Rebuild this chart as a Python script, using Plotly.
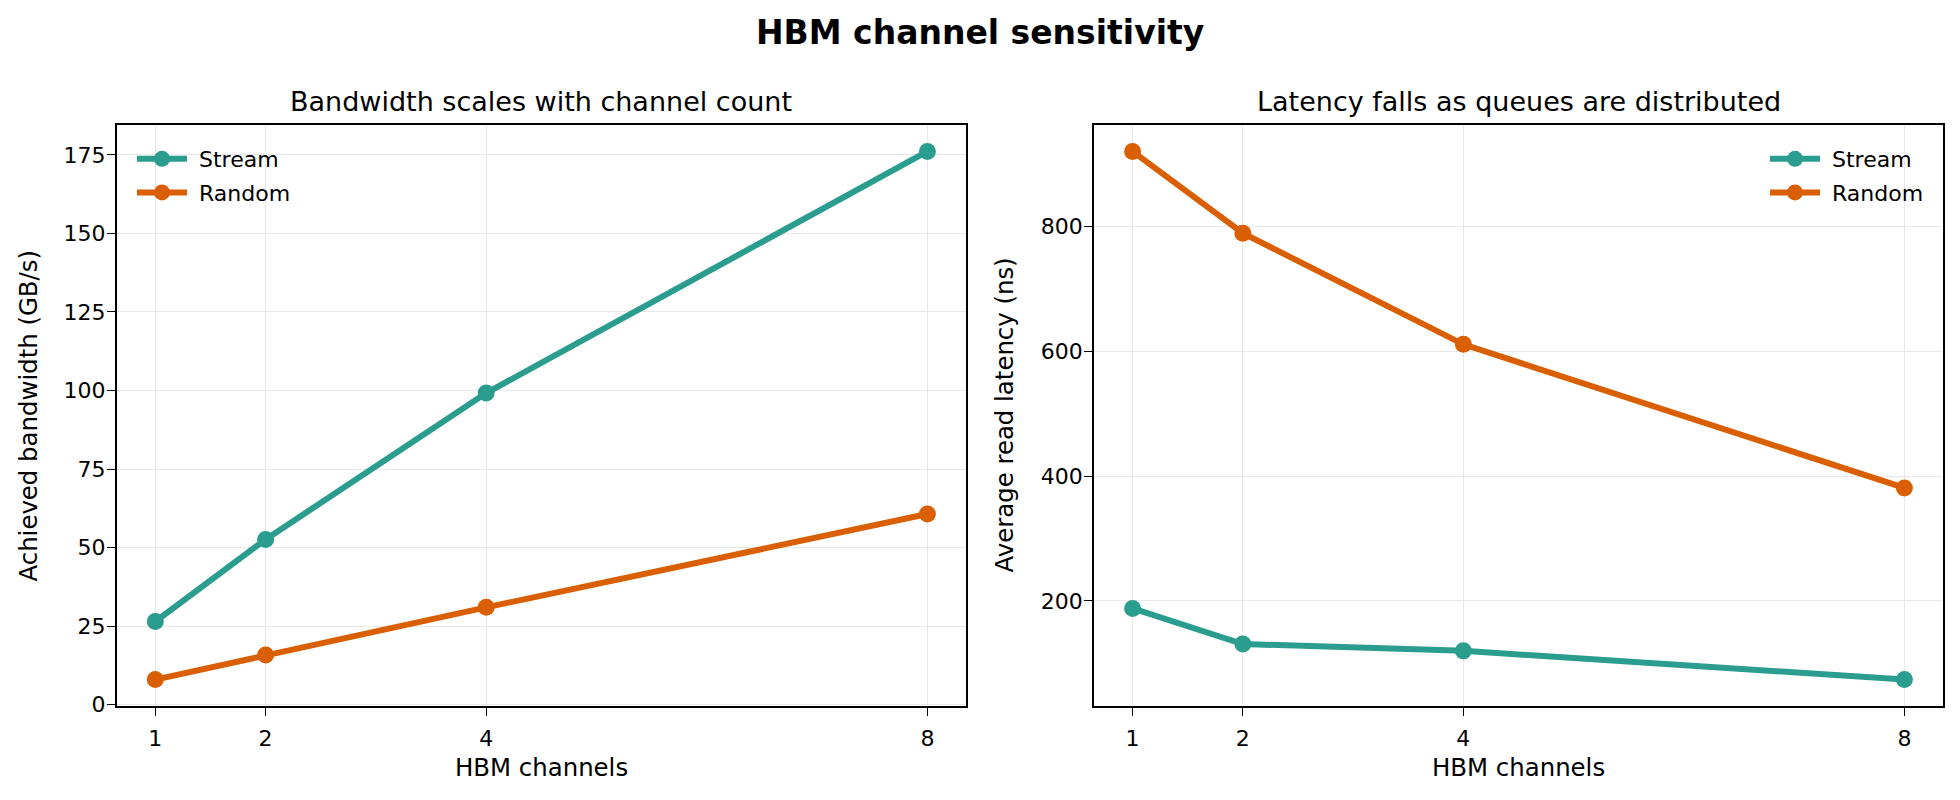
import plotly.graph_objects as go

# ---- data ----
channels = [1, 2, 4, 8]
bw_stream = [26.5, 52.6, 99.2, 176.1]
bw_random = [8.0, 15.8, 31.0, 60.7]
lat_stream = [188, 131, 120, 74]
lat_random = [920, 789, 611, 381]
x_ticks = [1, 2, 4, 8]
bw_ticks = [0, 25, 50, 75, 100, 125, 150, 175]
lat_ticks = [200, 400, 600, 800]
series_names = ["\u00a0Stream", "\u00a0Random"]

TEAL = "#2a9d8f"
ORANGE = "#d95f02"
FONT = "DejaVu Sans"
W, H = 1960, 800

def px_x(p):
    return p / W

def px_y(p):
    return 1 - p / H

fig = go.Figure()

def add_series(x, y, name, color, xa, ya, legend, group):
    fig.add_trace(go.Scatter(
        x=x, y=y, name=name, mode="lines+markers",
        line=dict(color=color, width=6),
        marker=dict(color=color, size=17),
        xaxis=xa, yaxis=ya, legend=legend, legendgroup=group,
    ))

add_series(channels, bw_stream, series_names[0], TEAL, "x", "y", "legend", "a1")
add_series(channels, bw_random, series_names[1], ORANGE, "x", "y", "legend", "a2")
add_series(channels, lat_stream, series_names[0], TEAL, "x2", "y2", "legend2", "b1")
add_series(channels, lat_random, series_names[1], ORANGE, "x2", "y2", "legend2", "b2")

axis_common = dict(
    showline=True, linecolor="black", linewidth=1.5, mirror=True,
    ticks="outside", ticklen=8, tickwidth=1.4, tickcolor="black",
    showgrid=True, gridcolor="#e8e8e8", gridwidth=1.3,
    zeroline=False, automargin=False,
    tickfont=dict(family=FONT, size=22, color="black"),
)

y_top, y_bot = 125, 706
fig.update_layout(
    width=W, height=H,
    margin=dict(l=0, r=0, t=0, b=0, autoexpand=False),
    paper_bgcolor="white", plot_bgcolor="white",
    font=dict(family=FONT, color="black"),
    showlegend=True,
    xaxis=dict(domain=[px_x(116.7), px_x(966)], range=[0.65, 8.35],
               tickvals=x_ticks, anchor="y", ticklabelstandoff=4, **axis_common),
    yaxis=dict(domain=[px_y(y_bot), px_y(y_top)], range=[-0.4, 184.5],
               tickvals=bw_ticks, anchor="x", ticklabelstandoff=-3, **axis_common),
    xaxis2=dict(domain=[px_x(1094), px_x(1943)], range=[0.65, 8.35],
                tickvals=x_ticks, anchor="y2", ticklabelstandoff=4, **axis_common),
    yaxis2=dict(domain=[px_y(y_bot), px_y(y_top)], range=[31.7, 962.3],
                tickvals=lat_ticks, anchor="x2", ticklabelstandoff=-3, **axis_common),
    legend=dict(x=px_x(132), y=px_y(138), xanchor="left", yanchor="top",
                bgcolor="rgba(255,255,255,0)", font=dict(family=FONT, size=22),
                tracegroupgap=2, itemwidth=50),
    legend2=dict(x=px_x(1929), y=px_y(138), xanchor="right", yanchor="top",
                 bgcolor="rgba(255,255,255,0)", font=dict(family=FONT, size=22),
                 tracegroupgap=2, itemwidth=50),
)

annotations = [
    dict(text="<b>HBM channel sensitivity</b>", x=0.5, y=px_y(32.5),
         font=dict(size=33)),
    dict(text="Bandwidth scales with channel count", x=px_x(541), y=px_y(102),
         font=dict(size=27)),
    dict(text="Latency falls as queues are distributed", x=px_x(1518.5), y=px_y(102),
         font=dict(size=27)),
    dict(text="HBM channels", x=px_x(541), y=px_y(767), font=dict(size=24.4)),
    dict(text="HBM channels", x=px_x(1518.5), y=px_y(767), font=dict(size=24.4)),
    dict(text="Achieved bandwidth (GB/s)", x=px_x(28), y=px_y(415.5),
         textangle=-90, font=dict(size=24.4)),
    dict(text="Average read latency (ns)", x=px_x(1004), y=px_y(415.5),
         textangle=-90, font=dict(size=24.4)),
]
for a in annotations:
    a.update(xref="paper", yref="paper", showarrow=False,
             xanchor="center", yanchor="middle")
    a["font"].update(family=FONT, color="black")
fig.update_layout(annotations=annotations)

fig.write_html("out.html")
